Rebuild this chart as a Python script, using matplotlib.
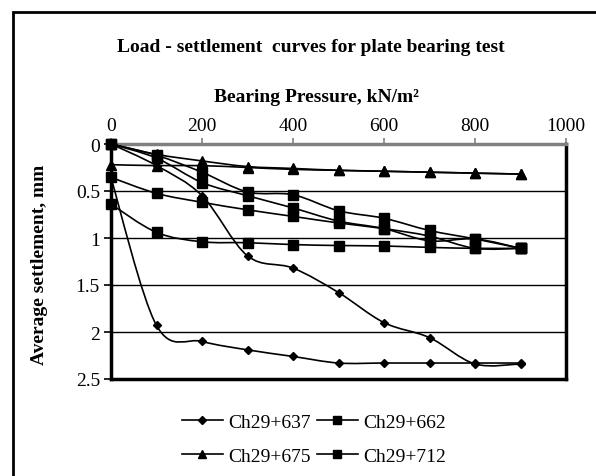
import numpy as np
import matplotlib
matplotlib.use("Agg")
import matplotlib.pyplot as plt
from matplotlib.path import Path
from matplotlib.patches import PathPatch, Rectangle
from matplotlib.lines import Line2D

plt.rcParams['font.family'] = ['Liberation Serif', 'DejaVu Serif']

pressure = [0, 100, 200, 300, 400, 500, 600, 700, 800, 900]

ch637 = [0.36, 1.93, 2.10, 2.19, 2.26, 2.33, 2.33, 2.33, 2.33, 2.33]
ch662 = [0.64, 0.94, 1.04, 1.05, 1.07, 1.08, 1.085, 1.10, 1.11, 1.11]
ch675 = [0.22, 0.23, 0.23, 0.25, 0.27, 0.28, 0.29, 0.30, 0.31, 0.32]
ch712 = [0.355, 0.525, 0.62, 0.70, 0.77, 0.84, 0.90, 0.98, 1.11, 1.11]
ch637b = [0.0, 0.23, 0.55, 1.19, 1.32, 1.58, 1.90, 2.06, 2.34, 2.34]
ch662b = [0.0, 0.12, 0.30, 0.51, 0.54, 0.71, 0.79, 0.92, 1.01, 1.11]
ch675b = [0.0, 0.11, 0.18, 0.24, 0.26, 0.28, 0.29, 0.30, 0.31, 0.32]
ch712b = [0.0, 0.15, 0.41, 0.55, 0.68, 0.82, 0.90, 1.03, 1.01, 1.11]

series = [
    ("Ch29+637", ch637, 'D', 4.5),
    ("Ch29+662", ch662, 's', 7),
    ("Ch29+675", ch675, '^', 7),
    ("Ch29+712", ch712, 's', 7),
    (None, ch637b, 'D', 4.5),
    (None, ch662b, 's', 7),
    (None, ch675b, '^', 7),
    (None, ch712b, 's', 7),
]

x_ticks = [0, 200, 400, 600, 800, 1000]
y_ticks = [0, 0.5, 1, 1.5, 2, 2.5]
y_labels = ["0", "0.5", "1", "1.5", "2", "2.5"]

W, H = 596, 477
fig = plt.figure(figsize=(W / 100, H / 100), dpi=100)
ax = fig.add_axes([111 / W, 1 - 380 / H, 455 / W, 235 / H])


def smooth_path(xs, ys):
    pts = np.column_stack([xs, ys]).astype(float)
    n = len(pts)
    verts = [pts[0]]
    codes = [Path.MOVETO]
    for i in range(n - 1):
        p0 = pts[i - 1] if i > 0 else pts[i]
        p1 = pts[i]
        p2 = pts[i + 1]
        p3 = pts[i + 2] if i + 2 < n else pts[i + 1]
        c1 = p1 + (p2 - p0) / 6.0
        c2 = p2 - (p3 - p1) / 6.0
        verts += [c1, c2, p2]
        codes += [Path.CURVE4] * 3
    return Path(verts, codes)


handles = {}
for label, vals, mk, ms in series:
    patch = PathPatch(smooth_path(pressure, vals), fill=False, edgecolor='black',
                      lw=1.2, transform=ax.transData, zorder=3)
    ax.add_patch(patch)
    ax.plot(pressure, vals, linestyle='none', marker=mk, ms=ms, color='black', zorder=4,
            clip_on=False)
    if label:
        handles[label] = Line2D([], [], color='black', lw=1.2, marker=mk, ms=ms * 0.8)

ax.set_xlim(0, 1000)
ax.set_ylim(2.5, 0)
ax.xaxis.tick_top()
ax.set_xticks(x_ticks)
ax.set_yticks(y_ticks)
ax.set_yticklabels(y_labels)
ax.tick_params(axis='x', direction='out', length=4, width=1.2, color='#808080',
               labelsize=14, pad=3)
ax.tick_params(axis='y', direction='out', length=5, width=1.2, color='black',
               labelsize=14, pad=3)
ax.yaxis.grid(True, color='black', lw=1.0)
ax.set_axisbelow(True)
for s in ['left', 'right', 'bottom']:
    ax.spines[s].set_color('black')
    ax.spines[s].set_linewidth(2.5)
ax.spines['top'].set_color('#808080')
ax.spines['top'].set_linewidth(2.5)

fig.text(311 / W, 1 - 47 / H, "Load - settlement  curves for plate bearing test",
         ha='center', va='center', fontsize=14, fontweight='bold')
fig.text(317 / W, 1 - 97 / H, "Bearing Pressure, kN/m²",
         ha='center', va='center', fontsize=14, fontweight='bold')
fig.text(40 / W, 1 - 265 / H, "Average settlement, mm", rotation=90,
         ha='center', va='center', fontsize=14, fontweight='bold')

order = ["Ch29+637", "Ch29+675", "Ch29+662", "Ch29+712"]
fig.legend([handles[k] for k in order], order, ncol=2, frameon=False,
           loc='center', bbox_to_anchor=(314 / W, 1 - 440 / H), fontsize=14,
           handlelength=2.1, columnspacing=0.3, handletextpad=0.3, labelspacing=0.85)

fig.add_artist(Rectangle((13 / W, -0.1), 1.2, (1 - 13 / H) + 0.1,
                         transform=fig.transFigure, fill=False, edgecolor='black',
                         lw=2, clip_on=False))

fig.savefig("out.png", dpi=100)
